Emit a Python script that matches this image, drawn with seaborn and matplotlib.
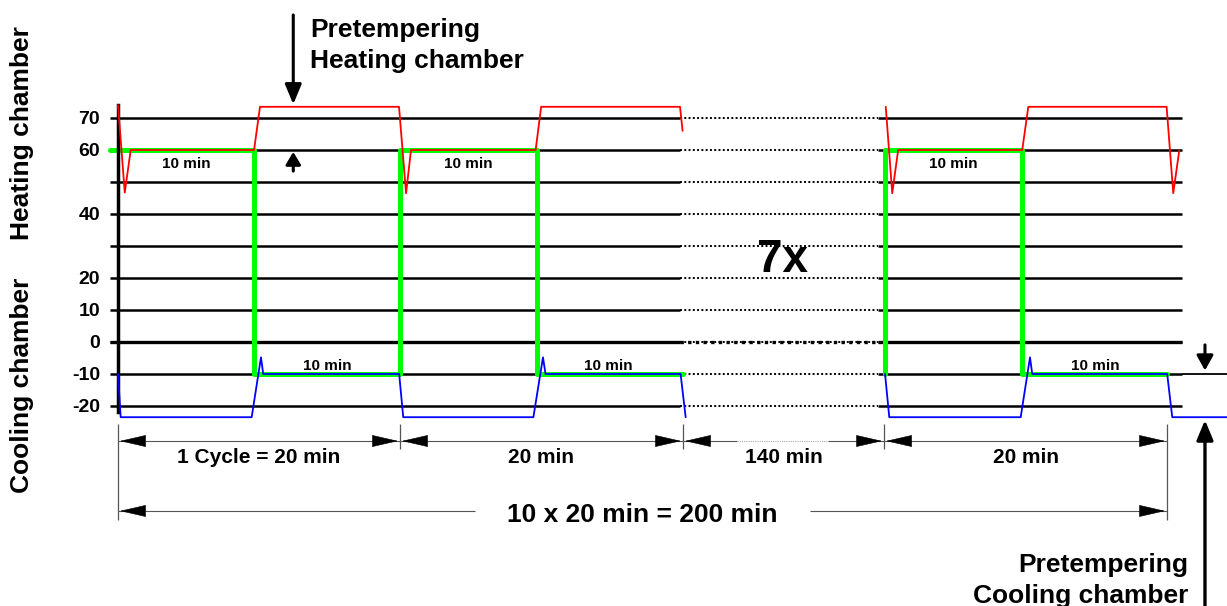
import seaborn as sns
import matplotlib.pyplot as plt

sns.set_style("white")
plt.rcParams['font.family'] = ['Liberation Sans', 'DejaVu Sans']
plt.rcParams['font.weight'] = 'bold'
plt.rcParams['text.color'] = 'black'
plt.rcParams['ytick.color'] = 'black'

# temperature levels on the y axis (30 and 50 have no label)
levels = [-20, -10, 0, 10, 20, 30, 40, 50, 60, 70]
level_labels = ['-20', '-10', '0', '10', '20', '', '40', '', '60', '70']

# heating chamber temperature (red): cycles 1-2, then last cycle
heat_t1 = [0.0, 0.48, 0.9, 9.65, 10.07, 19.93, 20.43, 20.78, 29.62, 30.01, 39.86, 40.04]
heat_v1 = [74, 46.7, 60, 60, 73.5, 73.5, 46.5, 60, 60, 73.5, 73.5, 66]
heat_t2 = [54.45, 54.91, 55.33, 64.13, 64.56, 74.37, 74.84, 75.27]
heat_v2 = [73.5, 46.5, 60, 60, 73.5, 73.5, 46.5, 60]

# cooling chamber temperature (blue)
cool_t1 = [0.0, 0.19, 9.48, 10.14, 10.3, 19.94, 20.23, 29.46, 30.14, 30.32, 39.9, 40.26]
cool_v1 = [-10, -23.5, -23.5, -4.8, -10, -10, -23.5, -23.5, -4.8, -10, -10, -23.5]
cool_t2 = [54.4, 54.7, 64.02, 64.68, 64.84, 74.41, 74.77, 78.65]
cool_v2 = [-10, -23.5, -23.5, -4.8, -10, -10, -23.5, -23.5]

# specimen set point (green)
set_t1 = [-0.57, 9.65, 9.65, 20.0, 20.0, 29.7, 29.7, 40.07]
set_v1 = [60, 60, -10, -10, 60, 60, -10, -10]
set_t2 = [54.4, 54.4, 64.13, 64.13, 74.37]
set_v2 = [-10, 60, 60, -10, -10]

# dimension spans below the chart
span_edges = [0.0, 20.0, 40.07, 54.33, 74.4]
span_labels = ['1 Cycle = 20 min', '20 min', '140 min', '20 min']
total_label = '10 x 20 min = 200 min'
heat_label_x = [4.82, 24.82, 59.22]
cool_label_x = [14.82, 34.75, 69.29]

fig = plt.figure(figsize=(12.27, 6.06), dpi=100)
ax = fig.add_axes([0, 0, 1, 1])

# grid rows: solid, dotted over the 7x gap, solid again
gap0, gap1, right = 39.86, 53.9, 75.46
ax.hlines(levels, -0.57, gap0, color='black', lw=1.8, zorder=1)
ax.hlines(levels, gap0, gap1, color='black', lw=1.4, linestyles=(0, (1, 1.2)), zorder=1)
ax.hlines(levels, gap1, right, color='black', lw=1.8, zorder=1)
ax.hlines(0, -0.57, gap0, color='black', lw=2.4, zorder=1)
ax.hlines(0, gap0, gap1, color='black', lw=2.4, linestyles=(0, (1, 1.3)), zorder=1)
ax.hlines(0, gap1, right, color='black', lw=2.4, zorder=1)
ax.hlines(-10, right, 78.7, color='black', lw=1.3, zorder=1)

for t, v in [(set_t1, set_v1), (set_t2, set_v2)]:
    sns.lineplot(x=t, y=v, estimator=None, sort=False, color='#00ff00', lw=3.6, ax=ax, zorder=2)
for t, v in [(cool_t1, cool_v1), (cool_t2, cool_v2)]:
    sns.lineplot(x=t, y=v, estimator=None, sort=False, color='#0000ff', lw=1.3, ax=ax, zorder=3)
for t, v in [(heat_t1, heat_v1), (heat_t2, heat_v2)]:
    sns.lineplot(x=t, y=v, estimator=None, sort=False, color='#ff0000', lw=1.3, ax=ax, zorder=3)

ax.set_xlim(-8.369, 78.652)
ax.set_ylim(-82.5, 106.875)
for s in ['top', 'right', 'bottom']:
    ax.spines[s].set_visible(False)
ax.spines['left'].set_position(('data', 0))
ax.spines['left'].set_bounds(-22, 74)
ax.spines['left'].set_linewidth(2.5)
ax.spines['left'].set_color('black')
ax.spines['left'].set_zorder(2.5)
ax.set_xticks([])
ax.set_yticks(levels, level_labels)
ax.tick_params(axis='y', length=0, pad=13, labelsize=14, labelcolor='black')
for lab in ax.get_yticklabels():
    lab.set_fontweight('bold')
ax.set_xlabel('')
ax.set_ylabel('')

# side labels
ax.text(-6.81, 65.3, 'Heating chamber', rotation=90, ha='center', va='center', fontsize=19)
ax.text(-6.81, -13.4, 'Cooling chamber', rotation=90, ha='center', va='center', fontsize=19)

# phase labels
for x in heat_label_x:
    ax.text(x, 54.3, '10 min', ha='center', va='baseline', fontsize=11)
for x in cool_label_x:
    ax.text(x, -8.75, '10 min', ha='center', va='baseline', fontsize=11)
ax.text(47.16, 21.9, '7x', ha='center', va='baseline', fontsize=33)


def head(x_tip, y, direction):
    ax.annotate('', xy=(x_tip, y), xytext=(x_tip - direction * 1.75, y),
                arrowprops=dict(arrowstyle='-|>,head_length=1.75,head_width=0.4',
                                color='black', lw=0.4, shrinkA=0, shrinkB=0,
                                mutation_scale=10))


# dimension lines
y_top, y_bot = -30.94, -52.8
dim_grey = '#555555'
ax.vlines([span_edges[0], span_edges[-1]], -55.6, -25.6, color=dim_grey, lw=0.9)
ax.vlines(span_edges[1:-1], -33.4, -25.6, color=dim_grey, lw=0.9)
for i, lab in enumerate(span_labels):
    a, b = span_edges[i], span_edges[i + 1]
    if lab == '140 min':
        ax.hlines(y_top, a, 43.9, color=dim_grey, lw=0.8)
        ax.hlines(y_top, 43.9, 50.35, color='#aaaaaa', lw=0.8, linestyles=(0, (1, 1)))
        ax.hlines(y_top, 50.35, b, color=dim_grey, lw=0.8)
    else:
        ax.hlines(y_top, a, b, color=dim_grey, lw=0.8)
    head(a + 0.14, y_top, -1)
    head(b - 0.14, y_top, 1)
    ax.text((a + b) / 2, -37.9, lab, ha='center', va='baseline', fontsize=15)

ax.hlines(y_bot, span_edges[0], 25.32, color=dim_grey, lw=0.8)
ax.hlines(y_bot, 49.08, span_edges[-1], color=dim_grey, lw=0.8)
head(span_edges[0] + 0.14, y_bot, -1)
head(span_edges[-1] - 0.14, y_bot, 1)
ax.text(37.2, -56.1, total_label, ha='center', va='baseline', fontsize=19)

# pretempering arrows and notes
big = dict(arrowstyle='-|>,head_length=1.2,head_width=0.5', color='black', lw=2.2,
           shrinkA=0, shrinkB=0, mutation_scale=10)
ax.annotate('', xy=(12.43, 74.3), xytext=(12.43, 102.2), arrowprops=big)
ax.annotate('', xy=(12.43, 59.4), xytext=(12.43, 53.4),
            arrowprops=dict(big, arrowstyle='-|>,head_length=0.75,head_width=0.45'))
ax.annotate('', xy=(77.09, -8.9), xytext=(77.09, -0.9),
            arrowprops=dict(big, arrowstyle='-|>,head_length=0.9,head_width=0.5'))
ax.annotate('', xy=(77.09, -24.4), xytext=(77.09, -82.5), arrowprops=dict(big, lw=2.4))

ax.text(13.62, 95.4, 'Pretempering', ha='left', va='baseline', fontsize=19)
ax.text(13.62, 85.5, 'Heating chamber', ha='left', va='baseline', fontsize=19)
ax.text(75.89, -71.9, 'Pretempering', ha='right', va='baseline', fontsize=19)
ax.text(75.89, -81.5, 'Cooling chamber', ha='right', va='baseline', fontsize=19)

fig.savefig('out.png', dpi=100)
